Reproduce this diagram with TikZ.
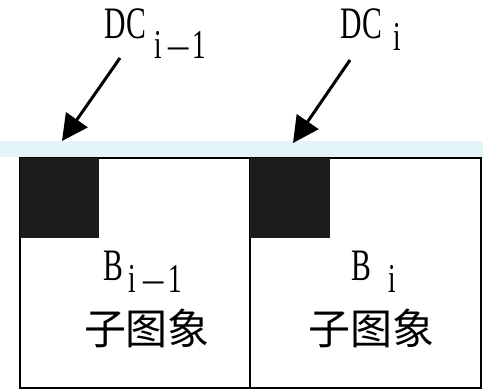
\documentclass[tikz,border=0pt]{standalone}
\usepackage{fontspec}
\usetikzlibrary{arrows.meta}
\newfontfamily\latinA[FakeStretch=0.66]{Liberation Serif}
\newfontfamily\cjk{Noto Sans CJK SC}
\newcommand\mcell[1]{\makebox[20.5pt]{#1}}
\newcommand\scell[1]{\makebox[20.5pt]{#1}}
\newcommand\mns{\scalebox{1.5}[1]{–}}
\newcommand\subtxt[2]{\raisebox{-#1}{\fontsize{41}{48}\selectfont #2}}
\definecolor{band}{RGB}{228,245,248}
\definecolor{blk}{RGB}{28,28,28}
\begin{document}
\begin{tikzpicture}[x=1pt,y=-1pt,
  lbl/.style={inner sep=0pt, anchor=base west, font=\latinA\fontsize{45}{52}\selectfont},
  cjlbl/.style={inner sep=0pt, anchor=center, font=\cjk\fontsize{42}{48}\selectfont},
  frame/.style={draw=black, line width=2.5pt},
  blkbox/.style={draw=blk, fill=blk, line width=1.5pt},
  arr/.style={line width=3pt, -{Triangle[length=26pt,width=26pt]}}
]
\useasboundingbox (0,0) rectangle (483,391);
% band
\fill[band] (0,141) rectangle (483,157);
% sub-image frames
\draw[frame] (20,158) rectangle (250,388);
\draw[frame] (250,158) rectangle (481,388);
% DC blocks
\draw[blkbox] (21,159) rectangle (98,237);
\draw[blkbox] (251,159) rectangle (329,237);
% labels
\node[lbl] (dcA) at (105,38) {\mcell{D}\mcell{C}\kern2pt\subtxt{20pt}{\scell{i}\scell{\mns}\scell{1}}};
\node[lbl] (dcB) at (341,38) {\mcell{D}\mcell{C}\kern4.5pt\subtxt{12pt}{\scell{i}}};
\node[lbl] (bA) at (103,280) {\mcell{B}\kern-2pt\subtxt{12pt}{\scell{i}\makebox[22pt]{\mns}\makebox[22pt]{1}}};
\node[lbl] (bB) at (351,280) {\mcell{B}\kern10pt\subtxt{12pt}{\scell{i}}};
\node[cjlbl] (cjA) at (147,328) {子图象};
\node[cjlbl] (cjB) at (371.5,328) {子图象};
% arrows
\coordinate (sA) at (120,58);
\coordinate (tA) at (62,141);
\coordinate (sB) at (350,60);
\coordinate (tB) at (293,143);
\draw[arr] (sA) -- (tA);
\draw[arr] (sB) -- (tB);
\end{tikzpicture}
\end{document}
